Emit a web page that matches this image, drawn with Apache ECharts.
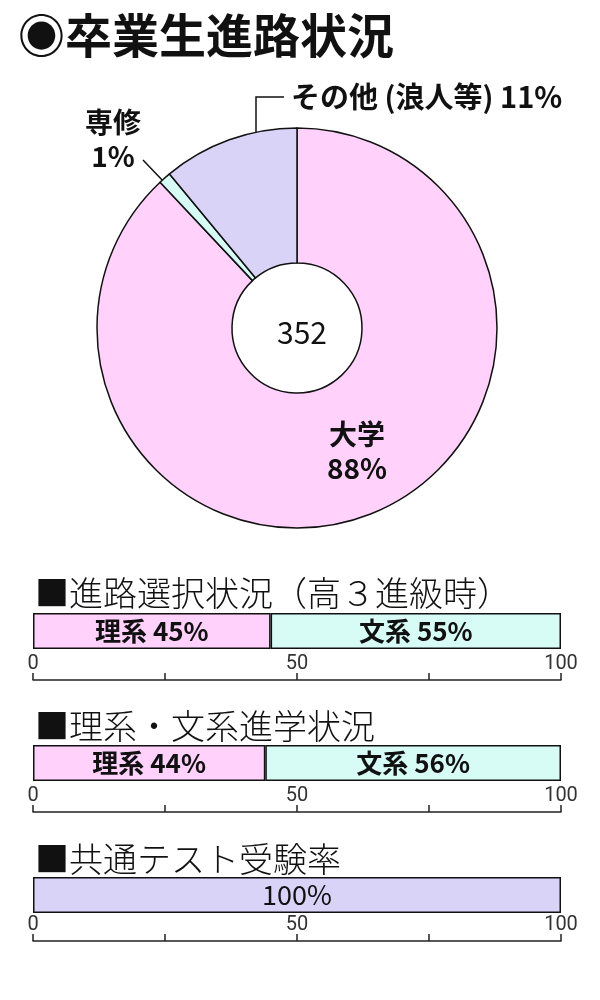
<!DOCTYPE html>
<html>
<head>
<meta charset="utf-8">
<script src="https://cdn.jsdelivr.net/npm/echarts@6/dist/echarts.min.js"></script>
<style>
  html, body { margin: 0; padding: 0; background: #fff; }
  #chart { width: 600px; height: 1000px; }
</style>
</head>
<body>
<div id="chart"></div>
<script>
// 卒業生進路状況 (%)
const pieNames = ['大学', '専修', 'その他 (浪人等)'];
const pieValues = [88, 1, 11];
const pieTotal = 352;

// 進路選択状況 / 理系・文系進学状況 / 共通テスト受験率 (%)
const courseNames = ['理系', '文系'];
const choiceValues = [45, 55];
const enrollValues = [44, 56];
const testValues = [100];
const tickLabels = [0, 50, 100];

const FONT = '"Noto Sans CJK JP", "Noto Sans", sans-serif';
const pieColors = ['#ffd1fb', '#d7fcf6', '#d9d3f8'];
const courseColors = ['#ffd1fb', '#d7fcf6'];
const testColor = '#d9d3f8';

const pieCenter = [297, 328];
const barTops = [613, 745, 877];
const barHeight = 36;
const axisLines = [680, 812, 941];

var myChart = echarts.init(document.getElementById('chart'));

function pieLabel(i) {
    if (i === 2) return pieNames[i] + ' ' + pieValues[i] + '%';
    return '{a|' + pieNames[i] + '}\n{b|' + pieValues[i] + '%}';
}

function barGrid(i) {
    return {
        left: 33,
        right: 39,
        top: barTops[i],
        height: barHeight
    };
}

function barXAxis(i) {
    return {
        gridIndex: i,
        type: 'value',
        min: 0,
        max: 100,
        interval: 25,
        position: 'bottom',
        offset: axisLines[i] - barTops[i] - barHeight,
        axisLine: { show: true, lineStyle: { color: '#222', width: 1.5 } },
        axisTick: { show: true, inside: true, length: 7, lineStyle: { color: '#222', width: 1.5 } },
        axisLabel: {
            inside: true,
            margin: 6,
            fontSize: 20,
            color: '#333',
            fontFamily: '"Liberation Sans Narrow", "Roboto", sans-serif',
            showMinLabel: true,
            showMaxLabel: true,
            formatter: function(v) {
                return tickLabels.indexOf(v) >= 0 ? String(v) : '';
            }
        },
        splitLine: { show: false }
    };
}

function barYAxis(i) {
    return { gridIndex: i, type: 'category', data: [''], show: false };
}

function barSeries(i, values, names, colors, bold) {
    return values.map(function(v, k) {
        return {
            type: 'bar',
            xAxisIndex: i,
            yAxisIndex: i,
            stack: 'row' + i,
            barWidth: '100%',
            data: [v],
            itemStyle: { color: colors[k], borderColor: '#111', borderWidth: 1.5 },
            label: {
                show: true,
                position: 'inside',
                formatter: (names ? names[k] + ' ' : '') + v + '%',
                fontSize: bold ? 26 : 27,
                fontWeight: bold ? 'bold' : 'normal',
                fontFamily: FONT,
                color: '#111'
            }
        };
    });
}

var option = {
    animation: false,
    backgroundColor: '#fff',
    title: [{
        text: '◉卒業生進路状況',
        left: 13,
        top: 7,
        textStyle: { fontSize: 47, fontWeight: 'bold', color: '#111', fontFamily: FONT }
    }, {
        text: String(pieTotal),
        left: pieCenter[0],
        top: pieCenter[1],
        textAlign: 'center',
        textVerticalAlign: 'middle',
        textStyle: { fontSize: 30, fontWeight: 'normal', color: '#111', fontFamily: FONT }
    }, {
        text: '■進路選択状況（高３進級時）',
        left: 30,
        top: 571,
        textStyle: { fontSize: 34, fontWeight: 300, color: '#111', fontFamily: FONT }
    }, {
        text: '■理系・文系進学状況',
        left: 30,
        top: 704,
        textStyle: { fontSize: 34, fontWeight: 300, color: '#111', fontFamily: FONT }
    }, {
        text: '■共通テスト受験率',
        left: 30,
        top: 837,
        textStyle: { fontSize: 34, fontWeight: 300, color: '#111', fontFamily: FONT }
    }],
    grid: [barGrid(0), barGrid(1), barGrid(2)],
    xAxis: [barXAxis(0), barXAxis(1), barXAxis(2)],
    yAxis: [barYAxis(0), barYAxis(1), barYAxis(2)],
    series: [{
        type: 'pie',
        center: pieCenter,
        radius: [65, 200],
        startAngle: 90,
        clockwise: true,
        silent: true,
        itemStyle: { borderColor: '#111', borderWidth: 1.5 },
        label: {
            show: true,
            position: 'outside',
            overflow: 'none',
            color: '#111',
            fontFamily: FONT,
            fontSize: 29,
            fontWeight: 'bold',
            rich: {
                a: { fontSize: 28, fontWeight: 'bold', fontFamily: FONT, color: '#111', lineHeight: 34 },
                b: { fontSize: 28, fontWeight: 'bold', fontFamily: FONT, color: '#111', lineHeight: 34 }
            }
        },
        labelLine: { show: true, lineStyle: { color: '#111', width: 1.5 } },
        labelLayout: function(params) {
            const i = params.dataIndex;
            if (i === 0) {
                return { x: 357, y: 451, align: 'center', verticalAlign: 'middle' };
            }
            if (i === 1) {
                return {
                    x: 113, y: 139, align: 'center', verticalAlign: 'middle',
                    labelLinePoints: [[143, 160], [164, 182], [185, 205]]
                };
            }
            return {
                x: 291, y: 97, align: 'left', verticalAlign: 'middle',
                labelLinePoints: [[256, 159], [256, 97], [284, 97]]
            };
        },
        data: pieValues.map(function(v, i) {
            return {
                name: pieNames[i],
                value: v,
                itemStyle: { color: pieColors[i] },
                label: { formatter: pieLabel(i), overflow: 'none', width: 400 },
                labelLine: { show: i !== 0 }
            };
        })
    }]
        .concat(barSeries(0, choiceValues, courseNames, courseColors, true))
        .concat(barSeries(1, enrollValues, courseNames, courseColors, true))
        .concat(barSeries(2, testValues, null, [testColor], false))
};

myChart.setOption(option);
</script>
</body>
</html>
